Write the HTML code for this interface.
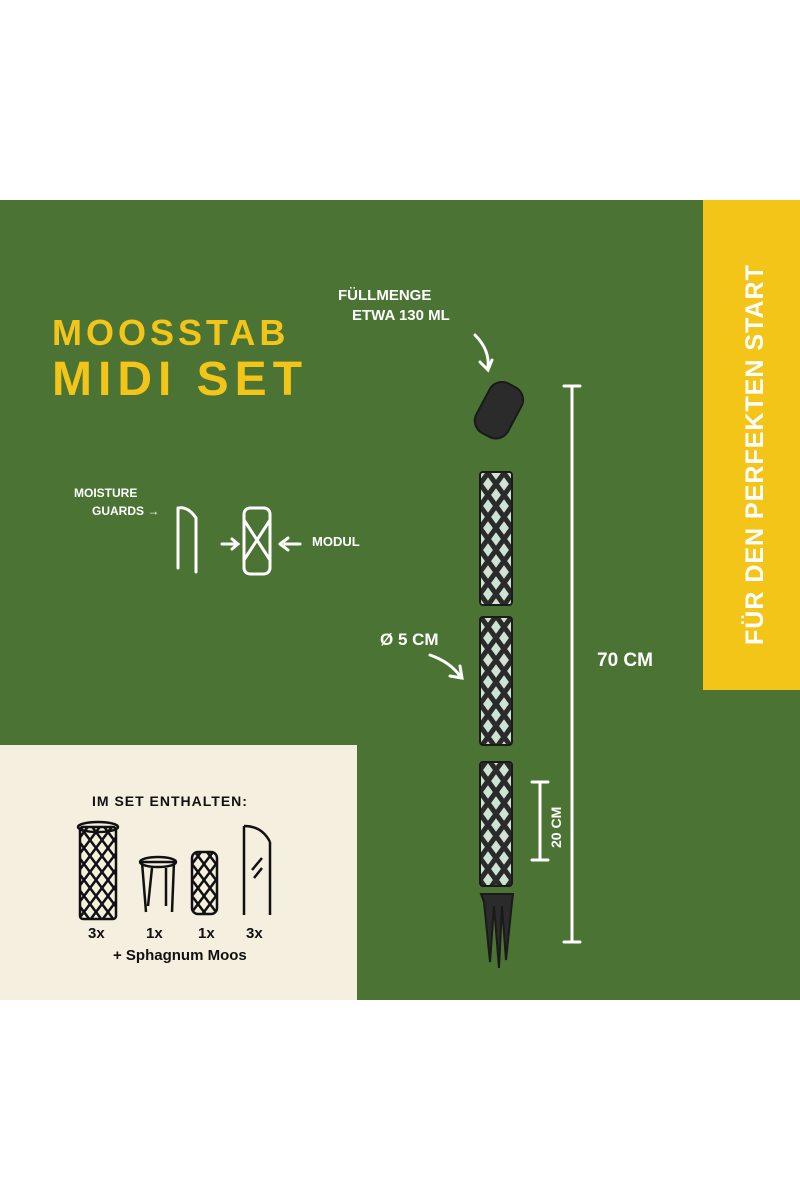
<!DOCTYPE html>
<html><head><meta charset="utf-8"><style>
body{margin:0;width:800px;height:1200px;background:#fff;position:relative;overflow:hidden;font-family:"Liberation Sans",sans-serif}
.g{position:absolute;left:0;top:200px;width:800px;height:800px;background:#4b7334}
.y{position:absolute;left:703px;top:200px;width:97px;height:490px;background:#f3c519}
.c{position:absolute;left:0;top:745px;width:357px;height:255px;background:#f5efdf}
.t{position:absolute;font-weight:bold;white-space:nowrap}
</style></head><body>
<div class="g"></div><div class="y"></div><div class="c"></div>
<div class="t" style="left:52px;top:312px;font-size:36px;color:#f3c519;letter-spacing:4px">MOOSSTAB</div>
<div class="t" style="left:52px;top:352px;font-size:48px;color:#f3c519;letter-spacing:6px">MIDI SET</div>
<div class="t" style="left:741px;top:645px;font-size:25px;color:#fff;transform:rotate(-90deg);transform-origin:0 0;letter-spacing:1px">FÜR DEN PERFEKTEN START</div>
<div class="t" style="left:338px;top:287px;font-size:15px;color:#fff">FÜLLMENGE</div>
<div class="t" style="left:352px;top:307px;font-size:15px;color:#fff">ETWA 130 ML</div>
<div class="t" style="left:74px;top:486px;font-size:12px;color:#fff">MOISTURE</div>
<div class="t" style="left:92px;top:504px;font-size:12px;color:#fff">GUARDS →</div>
<div class="t" style="left:312px;top:534px;font-size:13px;color:#fff">MODUL</div>
<div class="t" style="left:380px;top:630px;font-size:17px;color:#fff">Ø 5 CM</div>
<div class="t" style="left:597px;top:650px;font-size:19px;color:#fff">70 CM</div>
<div class="t" style="left:548px;top:848px;font-size:14px;color:#fff;transform:rotate(-90deg);transform-origin:0 0">20 CM</div>
<div class="t" style="left:92px;top:793px;font-size:14px;color:#111;letter-spacing:1px">IM SET ENTHALTEN:</div>
<div class="t" style="left:88px;top:925px;font-size:15px;color:#111">3x</div>
<div class="t" style="left:146px;top:925px;font-size:15px;color:#111">1x</div>
<div class="t" style="left:198px;top:925px;font-size:15px;color:#111">1x</div>
<div class="t" style="left:246px;top:925px;font-size:15px;color:#111">3x</div>
<div class="t" style="left:113px;top:947px;font-size:15px;color:#111">+ Sphagnum Moos</div>
<svg style="position:absolute;left:0;top:0" width="800" height="1200">
<defs><pattern id="d" width="16" height="22" patternUnits="userSpaceOnUse"><rect width="16" height="22" fill="#cfe3d3"/><path d="M0 0L16 22M16 0L0 22" stroke="#2a2a2a" stroke-width="5"/></pattern>
<pattern id="k" width="12" height="16" patternUnits="userSpaceOnUse"><path d="M0 0L12 16M12 0L0 16" stroke="#111" stroke-width="2.5"/></pattern></defs>
<g stroke="#fff" stroke-width="3" fill="none" stroke-linecap="round">
<path d="M572 386V942M564 386H580M564 942H580"/>
<path d="M540 782V860M532 782H548M532 860H548"/>
<path d="M475 335Q490 350 488 368M480 362L488 370L492 360"/>
<path d="M430 655Q450 662 460 676M450 676L462 678L460 666"/>
<path d="M178 508V568M196 518V572M178 508Q188 506 196 518"/>
<path d="M222 544H238M232 539L238 544L232 549"/>
<rect x="244" y="508" width="26" height="66" rx="6"/>
<path d="M244 520L270 560M270 520L244 560"/>
<path d="M285 544H300M280 544L288 538M280 544L288 550"/>
</g>
<g fill="#2b2b2b" stroke="#1a1a1a" stroke-width="2">
<rect x="478" y="388" width="56" height="36" rx="14" transform="rotate(-62 506 414)"/>
<rect x="480" y="472" width="32" height="133" rx="3" fill="url(#d)"/>
<rect x="480" y="617" width="32" height="128" rx="3" fill="url(#d)"/>
<rect x="480" y="762" width="32" height="124" rx="3" fill="url(#d)"/>
<path d="M481 894H513L512 902L506 960L502 906L499 968L494 906L490 962L484 902Z"/>
</g>
<g stroke="#111" stroke-width="2.5" fill="none">
<rect x="80" y="827" width="36" height="92" rx="3" fill="url(#k)"/>
<ellipse cx="98" cy="827" rx="20" ry="5"/>
<path d="M140 862H176M142 862L146 912M174 862L172 912M152 868L148 906M166 868L166 906"/>
<ellipse cx="158" cy="862" rx="18" ry="5"/>
<rect x="192" y="852" width="25" height="62" rx="6" fill="url(#k)"/>
<path d="M244 826V915M270 842V915M244 826Q262 826 270 842M252 870L262 858M254 878L262 868"/>
</g>
</svg>
</body></html>
